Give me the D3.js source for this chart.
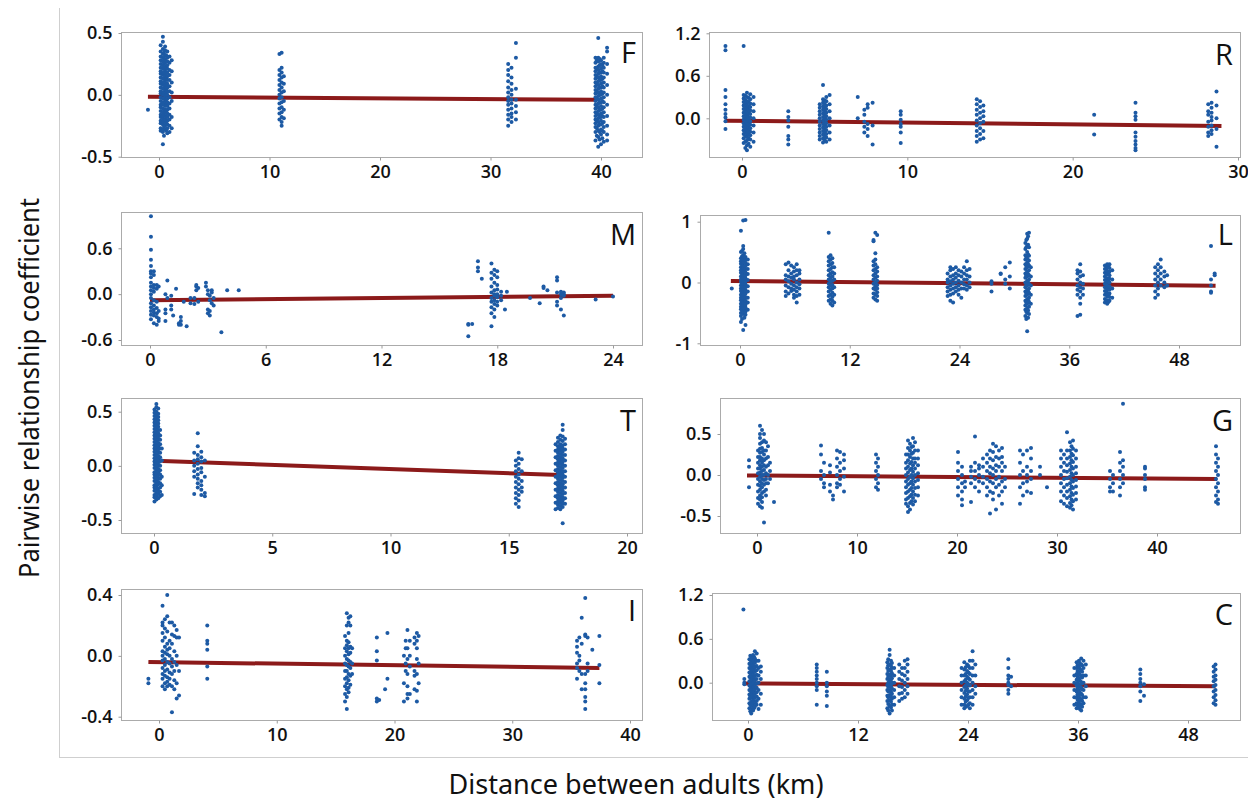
<!DOCTYPE html>
<html>
<head>
<meta charset="utf-8">
<script src="https://cdn.jsdelivr.net/npm/d3@7"></script>
<style>
  body { margin: 0; background: #ffffff; }
  svg { display: block; }
</style>
</head>
<body>
<script>
// ---------- Data: each entry is [distance km, [relationship coefficients]] ----------
const fPts = [
  [-1.0, [-0.12]],
  [0.15, [-0.29,-0.27,-0.23,-0.21,-0.18,-0.16,-0.13,-0.1,-0.08,-0.05,-0.02,0.01,0.03,0.06,0.09,0.11,0.14,0.17,0.19,0.22,0.25,0.28,0.31,0.35,0.4]],
  [0.35, [-0.4,-0.3,-0.28,-0.24,-0.22,-0.19,-0.17,-0.14,-0.11,-0.08,-0.06,-0.03,0.0,0.02,0.05,0.08,0.1,0.13,0.16,0.18,0.21,0.24,0.27,0.3,0.33,0.37,0.43,0.47]],
  [0.45, [-0.33,-0.26,-0.21,-0.16,-0.12,-0.07,-0.03,0.01,0.05,0.09,0.13,0.17,0.21,0.25,0.29,0.34]],
  [0.55, [-0.28,-0.25,-0.22,-0.2,-0.17,-0.14,-0.12,-0.09,-0.06,-0.04,-0.01,0.02,0.04,0.07,0.1,0.12,0.15,0.18,0.2,0.23,0.26,0.29,0.32,0.36,0.39]],
  [0.65, [-0.29,-0.23,-0.18,-0.13,-0.08,-0.04,0.0,0.04,0.08,0.13,0.17,0.22,0.27,0.32]],
  [0.75, [-0.31,-0.27,-0.24,-0.21,-0.18,-0.15,-0.12,-0.09,-0.06,-0.03,0.0,0.03,0.06,0.09,0.12,0.15,0.18,0.21,0.24,0.27,0.3,0.35]],
  [0.95, [-0.3,-0.25,-0.2,-0.16,-0.11,-0.07,-0.02,0.03,0.07,0.12,0.16,0.2,0.26,0.31]],
  [1.15, [-0.27,-0.18,-0.05,0.02,0.1,0.19,0.28]],
  [10.9, [-0.2,-0.15,-0.11,-0.07,-0.03,0.0,0.04,0.08,0.12,0.16,0.2,0.33]],
  [11.1, [-0.25,-0.22,-0.18,-0.14,-0.1,-0.06,-0.02,0.02,0.06,0.1,0.14,0.18,0.22,0.34]],
  [11.3, [-0.19,-0.12,-0.05,0.03,0.09,0.15]],
  [31.6, [-0.25,-0.2,-0.16,-0.12,-0.08,-0.05,-0.02,0.02,0.06,0.11,0.16,0.2,0.25]],
  [31.9, [-0.22,-0.18,-0.15,-0.11,-0.07,-0.04,0.0,0.04,0.09,0.14,0.22]],
  [32.3, [-0.2,-0.14,-0.09,-0.04,0.05,0.3,0.42]],
  [39.5, [-0.37,-0.3,-0.26,-0.23,-0.2,-0.17,-0.14,-0.11,-0.08,-0.05,-0.02,0.01,0.04,0.07,0.1,0.13,0.16,0.19,0.22,0.26,0.3]],
  [39.62, [-0.33,-0.27,-0.21,-0.15,-0.09,-0.03,0.03,0.09,0.15,0.21,0.28]],
  [39.75, [-0.42,-0.34,-0.29,-0.25,-0.22,-0.19,-0.16,-0.13,-0.1,-0.07,-0.04,-0.01,0.02,0.05,0.08,0.11,0.14,0.17,0.2,0.23,0.27,0.3,0.46]],
  [39.88, [-0.36,-0.3,-0.24,-0.18,-0.12,-0.06,0.0,0.06,0.12,0.18,0.24,0.29]],
  [40.0, [-0.4,-0.32,-0.28,-0.24,-0.21,-0.18,-0.15,-0.12,-0.09,-0.06,-0.03,0.0,0.03,0.06,0.09,0.12,0.15,0.18,0.21,0.25,0.28]],
  [40.12, [-0.35,-0.29,-0.23,-0.17,-0.11,-0.05,0.01,0.07,0.13,0.19,0.24]],
  [40.25, [-0.38,-0.3,-0.26,-0.22,-0.18,-0.14,-0.1,-0.06,-0.02,0.02,0.06,0.1,0.14,0.18,0.22,0.26,0.3]],
  [40.55, [-0.37,-0.32,-0.25,-0.17,-0.08,0.0,0.08,0.17,0.25,0.35,0.38]]
];
const fFit = [[-1, -0.015], [39.6, -0.04]];

const rPts = [
  [-1.0, [1.02,0.96,0.4,0.3,0.2,0.12,0.06,0.01,-0.04,-0.15]],
  [0.1, [-0.35,-0.28,-0.22,-0.17,-0.12,-0.07,-0.02,0.03,0.08,0.13,0.18,0.23,0.28,0.33,1.02]],
  [0.2, [-0.42,-0.33,-0.25,-0.19,-0.14,-0.09,-0.04,0.01,0.06,0.11,0.16,0.21,0.26,0.32]],
  [0.3, [-0.45,-0.38,-0.31,-0.26,-0.21,-0.16,-0.11,-0.06,-0.01,0.04,0.09,0.14,0.19,0.24,0.3,0.36]],
  [0.4, [-0.36,-0.28,-0.23,-0.18,-0.13,-0.08,-0.03,0.02,0.07,0.12,0.17,0.23,0.29]],
  [0.5, [-0.4,-0.3,-0.24,-0.19,-0.14,-0.09,-0.04,0.01,0.06,0.11,0.16,0.21,0.27,0.34]],
  [0.7, [-0.33,-0.2,-0.1,0.0,0.1,0.2,0.3]],
  [2.8, [0.1,0.02,-0.03,-0.12,-0.25,-0.3,-0.37]],
  [4.7, [-0.3,-0.25,-0.2,-0.15,-0.1,-0.05,0.0,0.05,0.1,0.15,0.2]],
  [4.9, [-0.34,-0.28,-0.23,-0.18,-0.13,-0.08,-0.03,0.02,0.07,0.12,0.17,0.22,0.27,0.47]],
  [5.0, [-0.31,-0.25,-0.2,-0.15,-0.1,-0.05,0.0,0.05,0.1,0.15,0.2,0.25]],
  [5.1, [-0.33,-0.27,-0.22,-0.17,-0.12,-0.07,-0.02,0.03,0.08,0.13,0.18,0.24,0.3]],
  [5.3, [-0.3,-0.2,-0.1,0.0,0.1,0.2,0.33]],
  [7.0, [0.3,0.0]],
  [7.4, [0.12,0.05,-0.05,-0.12,-0.2]],
  [7.6, [0.2,0.15,-0.08,-0.15,-0.25]],
  [7.9, [0.22,-0.1,-0.37]],
  [9.6, [0.1,0.05,-0.02,-0.08,-0.12,-0.2,-0.35]],
  [14.2, [-0.33,-0.25,-0.18,-0.1,-0.03,0.05,0.12,0.2,0.27]],
  [14.4, [-0.3,-0.22,-0.14,-0.07,0.0,0.08,0.16,0.24]],
  [14.6, [-0.28,-0.18,-0.05,0.03,0.1,0.18]],
  [21.3, [0.05,-0.23]],
  [23.8, [0.22,0.08,0.03,-0.02,-0.2,-0.26,-0.32,-0.37,-0.42,-0.45]],
  [28.2, [0.2,0.1,0.05,-0.05,-0.12,-0.2,-0.25]],
  [28.4, [0.22,0.15,0.08,0.02,-0.03,-0.1,-0.17,-0.22]],
  [28.7, [0.38,0.18,0.0,-0.15,-0.4]]
];
const rFit = [[-1, -0.033], [29, -0.108]];

const mPts = [
  [0.05, [1.02,0.75,0.58,0.45,0.37,0.3,0.27,0.22,0.15,0.1,0.05,0.0,-0.05,-0.12,-0.17,-0.22,-0.27,-0.33]],
  [0.2, [0.3,0.25,0.12,0.08,0.03,-0.08,-0.15,-0.2,-0.24,-0.28,-0.38]],
  [0.35, [0.12,0.07,-0.1,-0.18,-0.25,-0.3,-0.4]],
  [0.45, [0.1,-0.22,-0.32,-0.35]],
  [0.8, [0.0,-0.2,-0.25,-0.35]],
  [0.9, [0.18,-0.05]],
  [1.1, [-0.02,-0.15,-0.2]],
  [1.2, [-0.28]],
  [1.35, [0.07]],
  [1.5, [-0.38,-0.4]],
  [1.6, [-0.3,-0.35,-0.4]],
  [1.75, [-0.1]],
  [1.9, [-0.42]],
  [2.1, [-0.12,-0.05]],
  [2.3, [-0.05,-0.13]],
  [2.4, [0.1,0.05,0.12]],
  [2.5, [0.08,-0.1]],
  [2.9, [0.15,0.1]],
  [3.0, [0.05,0.0,-0.2,-0.25]],
  [3.1, [-0.02,-0.08,-0.22,-0.28]],
  [3.2, [0.05,-0.12,0.02]],
  [3.3, [-0.05,-0.15]],
  [3.7, [-0.5]],
  [4.0, [0.05]],
  [4.6, [0.05]],
  [16.5, [-0.39,-0.4,-0.55]],
  [16.7, [-0.39]],
  [17.0, [0.43,0.35,0.3]],
  [17.2, [0.2]],
  [17.7, [0.4,0.28,0.2,0.1,0.02,-0.05,-0.1,-0.17,-0.25,-0.42]],
  [17.85, [0.32,0.25,0.15,0.05,0.0,-0.02,-0.08,-0.13,-0.2,-0.3]],
  [18.0, [0.3,0.22,0.12,0.06,0.0,-0.04,-0.1,-0.15]],
  [18.2, [0.03,-0.02,-0.08]],
  [18.4, [-0.2]],
  [18.5, [0.03]],
  [19.7, [-0.05]],
  [20.2, [-0.12]],
  [20.4, [0.1,0.08]],
  [20.6, [0.05]],
  [21.1, [0.22,0.18,0.02,-0.1,-0.15]],
  [21.3, [0.0,-0.05,-0.2,0.03]],
  [21.45, [0.02,0.0,-0.02,-0.28]],
  [23.1, [-0.07]],
  [24.0, [-0.03]]
];
const mFit = [[0, -0.08], [24, -0.02]];

const lPts = [
  [-0.9, [-0.1]],
  [0.1, [-0.65,-0.55,-0.5,-0.44,-0.4,-0.35,-0.29,-0.25,-0.2,-0.14,-0.1,-0.05,0.01,0.05,0.1,0.16,0.2,0.25,0.31,0.35,0.4,0.5,0.85]],
  [0.22, [-0.6,-0.46,-0.38,-0.31,-0.24,-0.16,-0.09,-0.02,0.06,0.14,0.21,0.29,0.36,0.43,0.52]],
  [0.35, [-0.78,-0.52,-0.47,-0.42,-0.37,-0.32,-0.27,-0.22,-0.17,-0.12,-0.07,-0.02,0.03,0.08,0.13,0.18,0.23,0.28,0.33,0.38,0.45,0.55,0.6,1.02]],
  [0.48, [-0.58,-0.44,-0.34,-0.26,-0.19,-0.11,-0.04,0.04,0.11,0.19,0.26,0.34,0.41,0.48]],
  [0.6, [-0.7,-0.53,-0.48,-0.41,-0.36,-0.3,-0.24,-0.18,-0.13,-0.08,-0.03,0.02,0.07,0.12,0.17,0.22,0.27,0.32,0.37,0.42,1.03]],
  [0.85, [-0.45,-0.33,-0.25,-0.15,-0.06,0.04,0.14,0.22,0.3,0.38]],
  [5.0, [0.3,0.12,0.05,-0.05,-0.15,-0.22]],
  [5.3, [0.33,0.2,0.1,0.02,-0.08,-0.18]],
  [5.6, [0.28,0.15,0.08,-0.02,-0.1,-0.14]],
  [5.9, [0.25,0.18,0.1,0.05,-0.05,-0.12,-0.2,-0.25]],
  [6.2, [0.3,0.2,0.12,0.0,-0.08,-0.15,-0.22,-0.33]],
  [6.5, [0.2,0.15,0.05,-0.03,-0.1,-0.2]],
  [9.7, [-0.3,-0.22,-0.15,-0.08,-0.02,0.05,0.12,0.2,0.28,0.35,0.42,0.82]],
  [9.9, [-0.35,-0.28,-0.2,-0.12,-0.05,0.02,0.08,0.15,0.22,0.3,0.38,0.45]],
  [10.1, [-0.38,-0.3,-0.24,-0.17,-0.1,-0.04,0.03,0.1,0.17,0.25,0.32,0.4]],
  [10.3, [-0.33,-0.2,-0.08,0.05,0.15,0.25]],
  [14.6, [0.7,0.68,0.35,0.28,0.2,0.12,0.05,-0.02,-0.1,-0.18,-0.25]],
  [14.8, [0.82,0.48,0.38,0.3,0.22,0.15,0.08,0.0,-0.06,-0.12,-0.2,-0.28]],
  [15.0, [0.78,0.25,0.18,0.1,0.03,-0.04,-0.1,-0.16,-0.22,-0.3]],
  [22.7, [0.15,0.05,0.0,-0.08,-0.15,-0.22]],
  [23.0, [0.25,0.2,0.1,0.02,-0.05,-0.12,-0.2,-0.3]],
  [23.3, [0.22,0.12,0.05,-0.02,-0.1,-0.18,-0.33]],
  [23.6, [0.25,0.15,0.08,0.0,-0.08,-0.15]],
  [23.9, [0.2,0.12,0.03,-0.05,-0.12,-0.2]],
  [24.2, [0.18,0.1,0.0,-0.1,-0.25]],
  [24.5, [0.25,0.15,0.05,-0.03,-0.1]],
  [24.8, [0.35,0.2,0.12,0.05,-0.05,-0.12]],
  [25.1, [0.22,0.1,0.0,-0.08]],
  [27.5, [0.02,-0.02,-0.15]],
  [28.5, [0.15,0.14]],
  [29.0, [0.25,0.05,-0.02]],
  [29.5, [0.33,0.1,-0.1]],
  [31.2, [-0.55,-0.45,-0.38,-0.3,-0.22,-0.15,-0.08,0.0,0.08,0.15,0.22,0.3,0.38,0.45,0.55,0.65]],
  [31.3, [-0.6,-0.48,-0.33,-0.18,-0.04,0.12,0.27,0.42,0.58,0.7]],
  [31.4, [-0.8,-0.5,-0.42,-0.35,-0.27,-0.2,-0.12,-0.05,0.03,0.1,0.18,0.25,0.33,0.4,0.5,0.6,0.72,0.8]],
  [31.5, [-0.58,-0.46,-0.29,-0.14,0.0,0.14,0.3,0.46,0.62,0.76]],
  [31.6, [-0.52,-0.4,-0.32,-0.25,-0.17,-0.1,-0.03,0.05,0.12,0.2,0.28,0.36,0.44,0.58,0.82]],
  [31.8, [-0.35,-0.2,-0.05,0.1,0.25]],
  [36.9, [0.2,0.15,0.05,-0.05,-0.12,-0.2,-0.55]],
  [37.2, [0.3,0.18,0.1,0.0,-0.08,-0.15,-0.25,-0.35,-0.53]],
  [37.5, [0.12,-0.02,-0.1,-0.2]],
  [39.9, [-0.33,-0.27,-0.2,-0.14,-0.08,-0.02,0.04,0.1,0.16,0.22,0.28]],
  [40.03, [-0.3,-0.19,-0.08,0.03,0.14,0.22]],
  [40.15, [-0.35,-0.29,-0.23,-0.17,-0.11,-0.05,0.01,0.07,0.13,0.19,0.25,0.3]],
  [40.28, [-0.32,-0.2,-0.09,0.02,0.15,0.27]],
  [40.4, [-0.3,-0.24,-0.18,-0.12,-0.06,0.0,0.06,0.12,0.18,0.24,0.3]],
  [40.7, [-0.25,-0.1,0.05,0.2]],
  [45.4, [0.25,0.15,0.05,-0.05,-0.15,-0.25]],
  [45.7, [0.3,0.2,0.1,0.0,-0.1,-0.2]],
  [46.0, [0.38,0.25,0.15,0.05,-0.05]],
  [46.4, [0.18,0.1,0.0,-0.08]],
  [46.7, [0.12,-0.05]],
  [51.5, [0.6,0.05,-0.05,-0.15,-0.17]],
  [51.9, [0.15,0.12]]
];
const lFit = [[-1, 0.025], [52, -0.055]];

const tPts = [
  [0.02, [-0.33,-0.29,-0.27,-0.23,-0.2,-0.18,-0.14,-0.11,-0.08,-0.06,-0.02,0.01,0.04,0.07,0.1,0.13,0.16,0.19,0.22,0.25,0.28,0.31,0.34,0.37,0.4,0.43,0.46,0.49,0.52]],
  [0.1, [-0.31,-0.28,-0.25,-0.22,-0.19,-0.16,-0.13,-0.1,-0.07,-0.04,-0.01,0.02,0.05,0.08,0.11,0.14,0.17,0.2,0.23,0.26,0.29,0.32,0.35,0.38,0.41,0.44,0.47,0.5,0.54,0.57]],
  [0.18, [-0.3,-0.26,-0.24,-0.21,-0.17,-0.15,-0.12,-0.09,-0.06,-0.03,0.0,0.03,0.06,0.09,0.12,0.15,0.18,0.21,0.24,0.27,0.3,0.33,0.36,0.39,0.42,0.45,0.48,0.53]],
  [0.26, [-0.28,-0.24,-0.2,-0.16,-0.12,-0.08,-0.04,0.0,0.04,0.08,0.12,0.16,0.2,0.24,0.28,0.33]],
  [0.33, [-0.27,-0.18,-0.1,0.05,0.16]],
  [1.7, [0.12,0.05,0.0,-0.05,-0.1,-0.26]],
  [1.85, [0.3,0.18,0.1,0.06,0.02,-0.03,-0.08,-0.12,-0.16,-0.2]],
  [2.0, [0.13,0.08,0.04,-0.02,-0.06,-0.14,-0.18,-0.22,-0.27]],
  [2.15, [0.05,-0.1,-0.25,-0.28]],
  [15.3, [0.05,0.0,-0.05,-0.1,-0.15,-0.2,-0.25,-0.3,-0.35]],
  [15.42, [0.12,0.07,0.02,-0.03,-0.08,-0.12,-0.17,-0.22,-0.27,-0.32,-0.38]],
  [15.55, [0.06,-0.05,-0.14,-0.2,-0.24]],
  [16.98, [0.2,0.14,0.08,0.02,-0.04,-0.1,-0.16,-0.22,-0.28,-0.34,-0.4]],
  [17.08, [0.26,0.22,0.18,0.15,0.12,0.09,0.06,0.03,0.0,-0.03,-0.06,-0.09,-0.12,-0.15,-0.18,-0.21,-0.24,-0.27,-0.3,-0.33,-0.36,-0.39]],
  [17.18, [0.28,0.24,0.2,0.17,0.14,0.11,0.08,0.05,0.02,-0.01,-0.04,-0.07,-0.1,-0.13,-0.16,-0.19,-0.22,-0.25,-0.28,-0.31,-0.34,-0.37,-0.4]],
  [17.28, [0.38,0.33,0.27,0.23,0.19,0.16,0.13,0.1,0.07,0.04,0.01,-0.02,-0.05,-0.08,-0.11,-0.14,-0.17,-0.2,-0.23,-0.26,-0.29,-0.32,-0.35,-0.38,-0.53]],
  [17.38, [0.25,0.2,0.15,0.1,0.05,0.0,-0.05,-0.1,-0.15,-0.2,-0.25,-0.3,-0.35]]
];
const tFit = [[0.35, 0.045], [17.2, -0.085]];

const gPts = [
  [-0.8, [0.18,0.1,-0.15]],
  [0.1, [0.3,0.22,0.15,0.08,0.02,-0.05,-0.12,-0.2,-0.28,-0.35]],
  [0.3, [0.6,0.5,0.45,0.38,0.32,0.27,0.22,0.18,0.12,0.08,0.03,-0.02,-0.08,-0.13,-0.18,-0.25,-0.3,-0.38]],
  [0.5, [0.55,0.4,0.33,0.28,0.2,0.15,0.1,0.05,0.0,-0.05,-0.1,-0.15,-0.22,-0.27,-0.33,-0.4]],
  [0.7, [0.5,0.42,0.3,0.25,0.18,0.12,0.06,0.0,-0.06,-0.12,-0.2,-0.58]],
  [0.9, [0.4,0.3,0.2,0.1,0.02,-0.05,-0.1,-0.18,-0.25]],
  [1.1, [0.35,0.22,0.12,0.0,-0.1]],
  [1.3, [0.15,0.05,-0.05]],
  [1.7, [-0.33]],
  [6.4, [0.36,0.25,0.05,-0.05]],
  [6.7, [0.15,0.0,-0.1,-0.15]],
  [7.3, [0.12,0.03,-0.12,-0.2]],
  [7.6, [-0.25,-0.3]],
  [8.0, [0.3,0.2,0.1,0.0,-0.1,-0.15]],
  [8.3, [0.28,0.15,0.05,-0.05,-0.12]],
  [8.7, [0.25,0.18,0.08,-0.02,-0.2]],
  [11.9, [0.25,0.15,0.05,-0.05,-0.15]],
  [12.1, [0.2,0.1,0.0,-0.1,-0.18]],
  [14.9, [0.25,0.15,0.08,0.0,-0.08,-0.15,-0.22,-0.3,-0.35]],
  [15.1, [0.42,0.33,0.25,0.18,0.1,0.03,-0.05,-0.12,-0.2,-0.28,-0.38,-0.45]],
  [15.3, [0.38,0.3,0.22,0.14,0.06,-0.02,-0.1,-0.18,-0.26,-0.34,-0.42]],
  [15.45, [0.34,0.26,0.16,0.08,0.0,-0.08,-0.16,-0.24,-0.32]],
  [15.6, [0.45,0.35,0.27,0.2,0.12,0.04,-0.04,-0.12,-0.2,-0.28,-0.36]],
  [15.8, [0.4,0.3,0.2,0.15,0.08,0.0,-0.08,-0.16,-0.24,-0.32]],
  [16.1, [0.3,0.2,0.12,0.02,-0.06,-0.15,-0.25]],
  [20.1, [0.28,0.15,0.05,-0.05,-0.15,-0.25]],
  [20.5, [0.1,0.0,-0.1,-0.2,-0.3,-0.37]],
  [20.8, [-0.08,-0.15]],
  [21.4, [0.1,0.05,-0.02,-0.1,-0.33]],
  [21.8, [0.47,0.15,0.05,-0.05,-0.15]],
  [22.2, [0.12,0.08,0.0,-0.08,-0.2]],
  [22.6, [0.2,0.1,-0.02,-0.1]],
  [23.0, [0.25,0.15,0.05,-0.05,-0.15,-0.25]],
  [23.3, [0.3,0.2,0.1,0.02,-0.08,-0.2,-0.47]],
  [23.6, [0.38,0.28,0.18,0.08,0.0,-0.1,-0.22,-0.3]],
  [23.9, [0.35,0.22,0.12,0.05,-0.05,-0.15,-0.42]],
  [24.2, [0.3,0.2,0.1,-0.02,-0.12,-0.25]],
  [24.5, [0.33,0.22,0.15,0.05,-0.08,-0.2,-0.35]],
  [24.8, [0.1,-0.05,-0.15]],
  [26.3, [0.3,0.15,0.0,-0.15,-0.35]],
  [26.6, [0.25,0.05,-0.1,-0.25]],
  [27.0, [0.3,0.1,0.0,-0.08,-0.2]],
  [27.4, [0.33,0.2,0.05,-0.05,-0.22]],
  [28.3, [0.1,0.0]],
  [29.0, [-0.15]],
  [30.4, [0.3,0.2,0.1,0.0,-0.1,-0.2,-0.32]],
  [30.7, [0.25,0.15,0.05,-0.05,-0.15,-0.25,-0.35]],
  [31.0, [0.52,0.3,0.2,0.12,0.04,-0.04,-0.12,-0.2,-0.28,-0.38]],
  [31.3, [0.4,0.3,0.22,0.14,0.06,-0.02,-0.1,-0.18,-0.26,-0.34,-0.4]],
  [31.45, [0.35,0.26,0.18,0.1,0.02,-0.06,-0.14,-0.22,-0.3,-0.37]],
  [31.6, [0.42,0.32,0.24,0.16,0.08,0.0,-0.08,-0.16,-0.24,-0.32,-0.42]],
  [31.9, [0.3,0.2,0.1,0.02,-0.06,-0.14,-0.22,-0.3]],
  [35.3, [0.05,-0.05,-0.15,-0.2]],
  [35.6, [0.0,-0.1,-0.2]],
  [36.3, [0.28,0.15,0.05,-0.05,-0.15,-0.25]],
  [36.6, [0.87,0.18,0.1,0.0,-0.1]],
  [38.8, [0.1,0.08,0.0,-0.05,-0.15,-0.18]],
  [45.9, [0.35,0.25,0.15,0.05,-0.05,-0.15,-0.25,-0.33]],
  [46.1, [0.2,0.1,0.0,-0.1,-0.2,-0.3,-0.35]]
];
const gFit = [[-1, -0.005], [46, -0.05]];

const iPts = [
  [-0.9, [-0.15,-0.18]],
  [0.3, [0.33,0.22,0.2,0.15,0.1,0.03,0.0,-0.03,-0.08,-0.12,-0.15,-0.2]],
  [0.5, [0.24,0.18,0.12,0.06,0.02,-0.02,-0.06,-0.1,-0.13,-0.18,-0.22]],
  [0.7, [0.4,0.26,0.16,0.08,0.04,0.01,-0.04,-0.09,-0.14,-0.17,-0.2]],
  [0.9, [0.22,0.1,0.05,0.0,-0.05,-0.11,-0.15,-0.19]],
  [1.1, [0.22,0.14,0.08,-0.02,-0.07,-0.12,-0.2,-0.37]],
  [1.3, [0.2,0.13,0.03,-0.04,-0.1,-0.16,-0.22]],
  [1.5, [0.17,0.12,0.0,-0.06,-0.18,-0.28]],
  [1.7, [0.12,-0.1,-0.26]],
  [4.1, [0.2,0.1,0.08,0.04,-0.07,-0.15]],
  [15.8, [0.13,0.05,0.0,-0.05,-0.1,-0.15,-0.2,-0.25,-0.3]],
  [15.95, [0.28,0.2,0.1,0.07,0.03,-0.02,-0.06,-0.1,-0.14,-0.18,-0.22,-0.27,-0.35]],
  [16.1, [0.25,0.22,0.15,0.09,0.05,0.01,-0.03,-0.07,-0.12,-0.16,-0.21,-0.24]],
  [16.25, [0.26,0.2,0.06,0.02,-0.04,-0.08,-0.13,-0.19]],
  [16.4, [0.05,-0.05,-0.12]],
  [18.5, [0.12,0.03,-0.03,-0.28,-0.3]],
  [18.7, [-0.29]],
  [19.2, [-0.22]],
  [19.4, [0.15,-0.15]],
  [20.8, [0.0,-0.18,-0.3]],
  [20.95, [0.1,0.05,-0.05,-0.1]],
  [21.1, [0.17,0.05,-0.02,-0.12,-0.2,-0.25,-0.28]],
  [21.3, [0.1,0.0,-0.07,-0.25]],
  [21.7, [0.12,0.08,-0.1,-0.13,-0.22]],
  [21.9, [0.15,0.1,0.05,-0.02,-0.12,-0.23,-0.3]],
  [22.05, [0.13,-0.05,-0.18]],
  [35.5, [0.1,0.06,0.02,-0.05,-0.08,-0.15]],
  [35.7, [0.12,0.0,-0.03,-0.1]],
  [35.9, [0.25,0.08,-0.12,-0.22]],
  [36.2, [0.38,0.14,0.13,-0.12,-0.18,-0.22,-0.27,-0.3,-0.35]],
  [36.4, [0.12,-0.05,-0.1]],
  [36.8, [0.04]],
  [37.4, [0.13,-0.06,-0.18]]
];
const iFit = [[-0.9, -0.04], [37.4, -0.08]];

const cPts = [
  [-0.5, [1.0]],
  [-0.4, [0.05,0.0,-0.02]],
  [0.15, [-0.35,-0.28,-0.22,-0.16,-0.1,-0.04,0.02,0.08,0.14,0.2,0.26,0.32]],
  [0.25, [-0.39,-0.3,-0.19,-0.11,-0.05,0.01,0.07,0.13,0.19,0.25,0.31,0.37]],
  [0.35, [-0.42,-0.32,-0.26,-0.2,-0.14,-0.08,-0.02,0.04,0.1,0.16,0.22,0.28,0.35]],
  [0.45, [-0.36,-0.28,-0.21,-0.15,-0.09,-0.03,0.03,0.09,0.15,0.21,0.27,0.33]],
  [0.55, [-0.38,-0.3,-0.24,-0.18,-0.12,-0.06,0.0,0.06,0.12,0.18,0.24,0.3,0.38]],
  [0.65, [-0.35,-0.27,-0.2,-0.13,-0.06,0.01,0.08,0.15,0.22,0.29,0.36]],
  [0.75, [-0.33,-0.27,-0.21,-0.15,-0.09,-0.03,0.03,0.09,0.15,0.21,0.27,0.33,0.43]],
  [0.95, [-0.3,-0.25,-0.19,-0.13,-0.07,-0.01,0.05,0.11,0.17,0.23,0.3,0.4]],
  [1.15, [-0.36,-0.22,-0.1,0.0,0.1,0.2,0.3]],
  [1.4, [-0.3,-0.15,0.05,0.15,0.22]],
  [7.5, [0.25,0.2,0.15,0.1,0.05,0.0,-0.05,-0.1,-0.3]],
  [8.6, [0.15,0.0,-0.05,-0.12,-0.18,-0.32]],
  [15.2, [-0.35,-0.25,-0.18,-0.1,-0.03,0.05,0.12,0.2,0.28]],
  [15.3, [-0.38,-0.29,-0.2,-0.12,-0.06,0.0,0.08,0.16,0.24,0.32]],
  [15.45, [-0.42,-0.32,-0.24,-0.17,-0.1,-0.03,0.04,0.11,0.18,0.25,0.38,0.45]],
  [15.6, [-0.34,-0.26,-0.19,-0.12,-0.05,0.02,0.09,0.16,0.23,0.3]],
  [15.7, [-0.38,-0.3,-0.22,-0.15,-0.08,-0.01,0.06,0.13,0.2,0.27]],
  [15.95, [-0.3,-0.2,-0.1,0.0,0.1,0.2]],
  [16.5, [0.25,0.15,0.05,-0.05,-0.15,-0.25]],
  [16.8, [0.2,0.12,0.03,-0.06,-0.14,-0.22]],
  [17.1, [0.3,0.2,0.1,0.0,-0.1,-0.2]],
  [17.4, [0.32,0.25,0.15,0.05,-0.05,-0.15]],
  [23.3, [0.2,0.1,0.0,-0.1,-0.2,-0.3]],
  [23.6, [0.28,0.18,0.1,0.02,-0.06,-0.14,-0.22,-0.3,-0.35]],
  [23.75, [-0.33,-0.26,-0.19,-0.11,-0.04,0.04,0.12,0.21]],
  [23.9, [0.25,0.16,0.08,0.0,-0.08,-0.16,-0.24,-0.32]],
  [24.05, [-0.3,-0.21,-0.12,-0.02,0.06,0.14,0.23]],
  [24.2, [0.3,0.2,0.12,0.04,-0.04,-0.12,-0.2,-0.28,-0.35]],
  [24.5, [0.43,0.3,0.2,0.1,0.0,-0.1,-0.2,-0.3]],
  [24.8, [0.25,0.1,-0.05,-0.15]],
  [28.4, [0.32,0.2,0.1,0.05,0.0,-0.03,-0.1,-0.15]],
  [28.7, [0.08,-0.05]],
  [35.6, [0.2,0.1,0.0,-0.1,-0.2,-0.3]],
  [35.85, [0.28,0.2,0.12,0.04,-0.04,-0.12,-0.2,-0.28,-0.35]],
  [35.95, [-0.31,-0.23,-0.16,-0.08,0.0,0.08,0.16,0.24]],
  [36.1, [0.3,0.22,0.14,0.06,-0.02,-0.1,-0.18,-0.26,-0.33]],
  [36.2, [-0.36,-0.29,-0.21,-0.13,-0.05,0.03,0.11,0.19,0.27]],
  [36.35, [0.33,0.25,0.17,0.09,0.01,-0.07,-0.15,-0.23,-0.3,-0.38]],
  [36.45, [-0.33,-0.25,-0.17,-0.09,-0.01,0.07,0.15,0.24]],
  [36.6, [0.3,0.2,0.1,0.0,-0.1,-0.2,-0.28]],
  [36.85, [0.25,0.1,-0.05,-0.2]],
  [42.8, [0.18,0.12,0.05,0.0,-0.05,-0.12,-0.25]],
  [43.2, [-0.02,-0.18]],
  [50.8, [0.22,0.15,0.08,0.02,-0.05,-0.12,-0.2,-0.28]],
  [51.0, [0.25,0.18,0.1,0.04,-0.03,-0.1,-0.17,-0.24,-0.3]]
];
const cFit = [[-0.5, -0.01], [51, -0.05]];

// Tick labels for each panel
const fXTicks = [0, 10, 20, 30, 40],  fYTicks = [-0.5, 0, 0.5];
const rXTicks = [0, 10, 20, 30],      rYTicks = [0, 0.6, 1.2];
const mXTicks = [0, 6, 12, 18, 24],   mYTicks = [-0.6, 0, 0.6];
const lXTicks = [0, 12, 24, 36, 48],  lYTicks = [-1, 0, 1];
const tXTicks = [0, 5, 10, 15, 20],   tYTicks = [-0.5, 0, 0.5];
const gXTicks = [0, 10, 20, 30, 40],  gYTicks = [-0.5, 0, 0.5];
const iXTicks = [0, 10, 20, 30, 40],  iYTicks = [-0.4, 0, 0.4];
const cXTicks = [0, 12, 24, 36, 48],  cYTicks = [0, 0.6, 1.2];

// ---------- Layout: frame box plus two reference positions per axis ----------
// xs: [value, px, value, px]   ys: [value, px, value, px]
const panels = [
  { name: 'F', pts: fPts, fit: fFit, xt: fXTicks, yt: fYTicks, dec: 1,
    box: [121, 642, 32, 157],  xs: [0, 159, 40, 601],  ys: [0.5, 33, -0.5, 156.7], lab: [636, 63] },
  { name: 'R', pts: rPts, fit: rFit, xt: rXTicks, yt: rYTicks, dec: 1,
    box: [709, 1240, 32, 157], xs: [0, 742, 30, 1238], ys: [1.2, 33.3, 0, 118.3], lab: [1233, 65] },
  { name: 'M', pts: mPts, fit: mFit, xt: mXTicks, yt: mYTicks, dec: 1,
    box: [121, 642, 212, 345], xs: [0, 150, 24, 613], ys: [0.6, 248.3, -0.6, 340], lab: [636, 245] },
  { name: 'L', pts: lPts, fit: lFit, xt: lXTicks, yt: lYTicks, dec: 0,
    box: [700, 1240, 215, 345], xs: [0, 740, 48, 1179], ys: [1, 221.7, -1, 343.3], lab: [1233, 245] },
  { name: 'T', pts: tPts, fit: tFit, xt: tXTicks, yt: tYTicks, dec: 1,
    box: [121, 642, 398, 533], xs: [0, 154, 20, 627], ys: [0.5, 411.7, -0.5, 520], lab: [636, 431] },
  { name: 'G', pts: gPts, fit: gFit, xt: gXTicks, yt: gYTicks, dec: 1,
    box: [720, 1240, 398, 533], xs: [0, 757, 40, 1157], ys: [0.5, 434, -0.5, 516], lab: [1233, 431] },
  { name: 'I', pts: iPts, fit: iFit, xt: iXTicks, yt: iYTicks, dec: 1,
    box: [121, 642, 589, 720], xs: [0, 159, 40, 630], ys: [0.4, 595, -0.4, 716.7], lab: [636, 621] },
  { name: 'C', pts: cPts, fit: cFit, xt: cXTicks, yt: cYTicks, dec: 1,
    box: [712, 1240, 593, 720], xs: [0, 748, 48, 1188], ys: [1.2, 595, 0, 682.7], lab: [1233, 625] }
];

const W = 1248, H = 805;
const svg = d3.select('body').append('svg').attr('width', W).attr('height', H);

// light outer frame around the grid of panels
svg.append('line').attr('x1', 59.5).attr('x2', 59.5).attr('y1', 8).attr('y2', 757)
  .attr('stroke', '#cfcfcf').attr('stroke-width', 1);
svg.append('line').attr('x1', 59).attr('x2', W).attr('y1', 757.5).attr('y2', 757.5)
  .attr('stroke', '#cfcfcf').attr('stroke-width', 1);

const tickFont = "'Open Sans', 'DejaVu Sans', sans-serif";

panels.forEach(p => {
  const [left, right, top, bottom] = p.box;
  const x = d3.scaleLinear().domain([p.xs[0], p.xs[2]]).range([p.xs[1], p.xs[3]]);
  const y = d3.scaleLinear().domain([p.ys[0], p.ys[2]]).range([p.ys[1], p.ys[3]]);
  const g = svg.append('g');

  g.append('rect')
    .attr('x', left + 0.5).attr('y', top + 0.5)
    .attr('width', right - left).attr('height', bottom - top)
    .attr('fill', '#ffffff').attr('stroke', '#ababab').attr('stroke-width', 1);

  // x axis
  const xa = g.append('g').attr('transform', `translate(0,${bottom + 0.5})`)
    .call(d3.axisBottom(x).tickValues(p.xt).tickSize(3).tickPadding(5).tickFormat(d => String(d)));
  // y axis
  const ya = g.append('g').attr('transform', `translate(${left + 0.5},0)`)
    .call(d3.axisLeft(y).tickValues(p.yt).tickSize(3).tickPadding(6)
      .tickFormat(d => d.toFixed(p.dec)));
  [xa, ya].forEach(a => {
    a.select('.domain').remove();
    a.selectAll('.tick line').attr('stroke', '#9a9a9a');
    a.selectAll('.tick text')
      .attr('fill', '#111111')
      .style('font-family', tickFont)
      .style('font-weight', 600)
      .style('font-size', '18px');
  });

  // fitted regression line (under the points)
  g.append('path')
    .datum(p.fit)
    .attr('d', d3.line().x(d => x(d[0])).y(d => y(d[1])))
    .attr('fill', 'none').attr('stroke', '#8c1a1a').attr('stroke-width', 4);

  // scatter points
  const flat = [];
  p.pts.forEach(([dx, ys]) => ys.forEach(v => flat.push([dx, v])));
  g.append('g').selectAll('circle').data(flat).join('circle')
    .attr('cx', d => x(d[0])).attr('cy', d => y(d[1]))
    .attr('r', 2).attr('fill', '#1d5aa4');

  // panel letter
  g.append('text')
    .attr('x', p.lab[0]).attr('y', p.lab[1])
    .attr('text-anchor', 'end')
    .style('font-family', "'Open Sans', 'Noto Sans', sans-serif")
    .style('font-size', '29px')
    .attr('fill', '#111111')
    .text(p.name);
});

// axis titles
svg.append('text')
  .attr('transform', 'translate(39,388) rotate(-90)')
  .attr('text-anchor', 'middle')
  .attr('textLength', 380).attr('lengthAdjust', 'spacingAndGlyphs')
  .style('font-family', "'Liberation Sans Narrow', 'Noto Sans', sans-serif")
  .style('font-size', '27px')
  .attr('fill', '#111111')
  .text('Pairwise relationship coefficient');

svg.append('text')
  .attr('x', 636).attr('y', 794)
  .attr('text-anchor', 'middle')
  .attr('textLength', 375).attr('lengthAdjust', 'spacingAndGlyphs')
  .style('font-family', "'Liberation Sans Narrow', 'Noto Sans', sans-serif")
  .style('font-size', '27px')
  .attr('fill', '#111111')
  .text('Distance between adults (km)');
</script>
</body>
</html>
